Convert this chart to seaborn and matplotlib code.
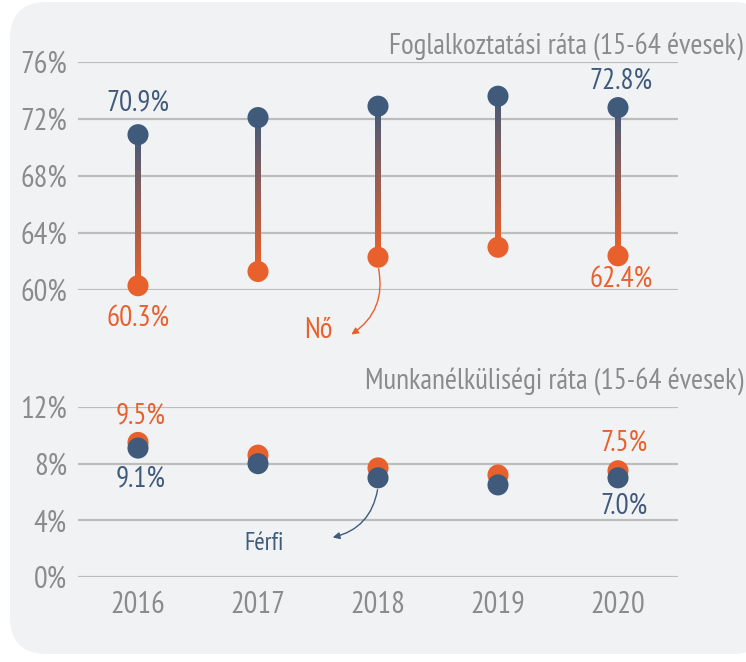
import numpy as np
import pandas as pd
import matplotlib
matplotlib.use('Agg')
import matplotlib.pyplot as plt
import seaborn as sns
from matplotlib.collections import LineCollection
from matplotlib.patches import FancyBboxPatch, FancyArrowPatch

years = [2016, 2017, 2018, 2019, 2020]
emp_men = [70.9, 72.1, 72.9, 73.6, 72.8]
emp_women = [60.3, 61.3, 62.3, 63.0, 62.4]
unemp_men = [9.1, 8.0, 7.0, 6.5, 7.0]
unemp_women = [9.5, 8.6, 7.7, 7.2, 7.5]
emp_ticks = [60, 64, 68, 72, 76]
unemp_ticks = [0, 4, 8, 12]
title_top = "Foglalkoztatási ráta (15-64 évesek)"
title_bottom = "Munkanélküliségi ráta (15-64 évesek)"
label_men = "Férfi"
label_women = "Nő"

BLUE = "#3f5a7b"
ORANGE = "#e8602c"
GRAY = "#8b8b8b"
GRID = "#bdbdbd"
BG = "#f1f2f4"

sns.set_theme(style="white")
plt.rcParams['font.family'] = ['PT Sans Narrow', 'DejaVu Sans']

W, H = 746, 662
fig = plt.figure(figsize=(W / 100, H / 100), dpi=100)
fig.patch.set_facecolor('white')
bg = FancyBboxPatch((10 / W, 8 / H), 760 / W, 652 / H,
                    boxstyle="round,pad=0,rounding_size=0.05",
                    transform=fig.transFigure, facecolor=BG, edgecolor='none',
                    mutation_aspect=W / H, zorder=-10)
fig.patches.append(bg)

def fx(px):
    return px / W

def fy(py):
    return 1 - py / H

ax1 = fig.add_axes([fx(78), fy(290), fx(678) - fx(78), fy(62) - fy(290)])
ax2 = fig.add_axes([fx(78), fy(577), fx(678) - fx(78), fy(407) - fy(577)])

emp_df = pd.DataFrame({"year": years * 2, "rate": emp_men + emp_women,
                       "sex": [label_men] * 5 + [label_women] * 5})
unemp_df = pd.DataFrame({"year": years * 2, "rate": unemp_women + unemp_men,
                         "sex": [label_women] * 5 + [label_men] * 5})
pal = {label_men: BLUE, label_women: ORANGE}

TFS = 22
for ax, ticks, lim in [(ax1, emp_ticks, (60, 76)), (ax2, unemp_ticks, (0, 12))]:
    ax.patch.set_visible(False)
    ax.set_xlim(2015.5, 2020.5)
    ax.set_ylim(*lim)
    for s in ax.spines.values():
        s.set_visible(False)
    ax.set_yticks(ticks)
    ax.set_yticklabels([f"{t}%" for t in ticks], color=GRAY, fontsize=TFS)
    ax.tick_params(axis='y', length=0, pad=8)
    ax.grid(axis='y', color=GRID, linewidth=1.6)
    ax.grid(axis='x', visible=False)
    ax.set_axisbelow(True)

# gradient stems
c1 = np.array(matplotlib.colors.to_rgb(BLUE))
c2 = np.array(matplotlib.colors.to_rgb(ORANGE))
for x, top, bot in zip(years, emp_men, emp_women):
    n = 80
    ys = np.linspace(top, bot, n + 1)
    segs = [[(x, ys[i]), (x, ys[i + 1])] for i in range(n)]
    cols = [c1 + (c2 - c1) * (i / (n - 1)) for i in range(n)]
    lc = LineCollection(segs, colors=cols, linewidths=3.1, capstyle='projecting',
                        antialiaseds=False, zorder=2)
    ax1.add_collection(lc)

sns.scatterplot(data=emp_df, x="year", y="rate", hue="sex", palette=pal, s=230,
                linewidth=0, ax=ax1, legend=False, zorder=3, clip_on=False)
sns.scatterplot(data=unemp_df, x="year", y="rate", hue="sex", palette=pal, s=230,
                linewidth=0, ax=ax2, legend=False, zorder=3, clip_on=False)

ax1.set_xticks([])
ax1.set_xlabel("")
ax1.set_ylabel("")
ax2.set_xticks(years)
ax2.set_xticklabels([str(y) for y in years], color=GRAY, fontsize=TFS)
ax2.tick_params(axis='x', length=0, pad=10)
ax2.set_xlabel("")
ax2.set_ylabel("")

# titles
fig.text(fx(743), fy(47), title_top, ha='right', va='center', color=GRAY, fontsize=21)
fig.text(fx(743), fy(382), title_bottom, ha='right', va='center', color=GRAY, fontsize=21)

# value labels
fs = 21
ax1.annotate(f"{emp_men[0]}%", (years[0], emp_men[0]), xytext=(0, 23), textcoords='offset points',
             ha='center', va='center', color=BLUE, fontsize=fs)
ax1.annotate(f"{emp_women[0]}%", (years[0], emp_women[0]), xytext=(0, -23), textcoords='offset points',
             ha='center', va='center', color=ORANGE, fontsize=fs)
ax1.annotate(f"{emp_men[4]}%", (years[4], emp_men[4]), xytext=(2, 19), textcoords='offset points',
             ha='center', va='center', color=BLUE, fontsize=fs)
ax1.annotate(f"{emp_women[4]}%", (years[4], emp_women[4]), xytext=(2, -17), textcoords='offset points',
             ha='center', va='center', color=ORANGE, fontsize=fs)
ax2.annotate(f"{unemp_women[0]}%", (years[0], unemp_women[0]), xytext=(2, 19), textcoords='offset points',
             ha='center', va='center', color=ORANGE, fontsize=fs)
ax2.annotate(f"{unemp_men[0]}%", (years[0], unemp_men[0]), xytext=(2, -22), textcoords='offset points',
             ha='center', va='center', color=BLUE, fontsize=fs)
ax2.annotate(f"{unemp_women[4]}%", (years[4], unemp_women[4]), xytext=(4, 20), textcoords='offset points',
             ha='center', va='center', color=ORANGE, fontsize=fs)
ax2.annotate(f"{unemp_men[4]}%", (years[4], unemp_men[4]), xytext=(4, -20), textcoords='offset points',
             ha='center', va='center', color=BLUE, fontsize=fs)

# callouts
fig.text(fx(318), fy(331), label_women, ha='center', va='center', color=ORANGE, fontsize=21)
fig.text(fx(264), fy(543), label_men, ha='center', va='center', color=BLUE, fontsize=18)
a1 = FancyArrowPatch((fx(378), fy(266)), (fx(349), fy(336)), transform=fig.transFigure,
                     connectionstyle="arc3,rad=-0.35", arrowstyle='-|>,head_length=4,head_width=2',
                     color=ORANGE, linewidth=1.0, zorder=5)
a2 = FancyArrowPatch((fx(378), fy(487)), (fx(330), fy(538)), transform=fig.transFigure,
                     connectionstyle="arc3,rad=-0.35", arrowstyle='-|>,head_length=4,head_width=2',
                     color=BLUE, linewidth=1.0, zorder=5)
fig.patches.extend([a1, a2])

fig.savefig("out.png", dpi=100, facecolor='white')
